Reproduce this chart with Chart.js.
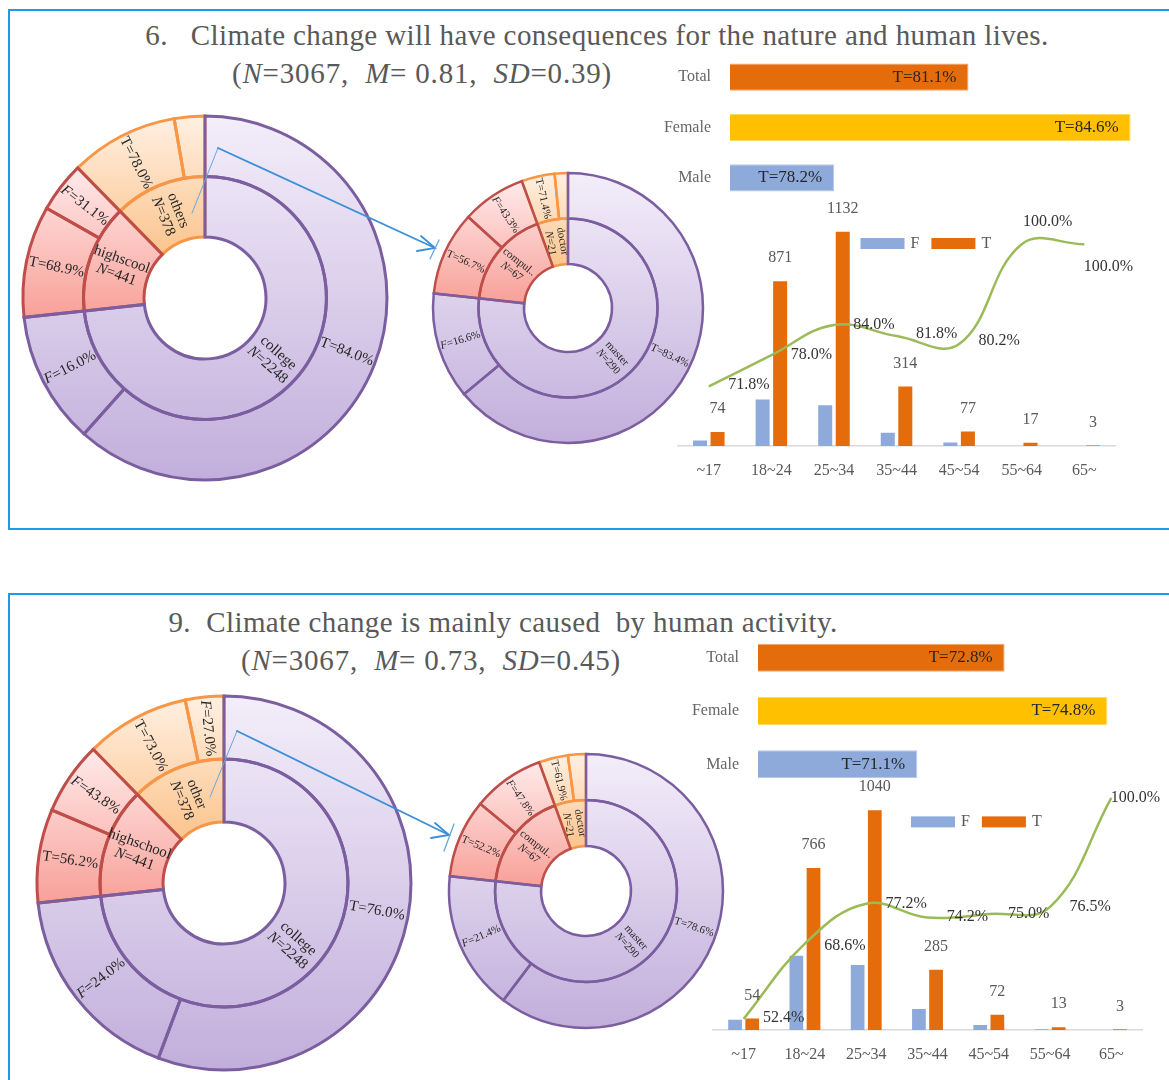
<!DOCTYPE html>
<html>
<head>
<meta charset="utf-8">
<script src="https://cdn.jsdelivr.net/npm/chart.js@4.4.1/dist/chart.umd.min.js"></script>
<style>
  html, body { margin: 0; padding: 0; background: #fff; }
  body { width: 1169px; height: 1080px; position: relative; overflow: hidden;
         font-family: 'Liberation Serif', 'Times New Roman', serif; }
  .panel { position: absolute; border: 2px solid #1e9be6; box-sizing: border-box; }
  .title { position: absolute; color: #595959; white-space: pre; line-height: 1;
           transform: translate(-50%, -50%); font-size: 29px; }
  .head { letter-spacing: 0.4px; }
  .sub { letter-spacing: 0.8px; }
  canvas { position: absolute; }
  svg { position: absolute; left: 0; top: 0; pointer-events: none; }
</style>
</head>
<body>
<div class="panel" style="left:8px; top:9px; width:1200px; height:521px;"></div>
<div class="panel" style="left:8px; top:593px; width:1200px; height:560px;"></div>

<div class="title head" style="left:597px; top:35px;">6.   Climate change will have consequences for the nature and human lives.</div>
<div class="title sub" style="left:422px; top:73px;">(<i>N</i>=3067,  <i>M</i>= 0.81,  <i>SD</i>=0.39)</div>
<div class="title head" style="left:503px; top:622px;">9.  Climate change is mainly caused  by human activity.</div>
<div class="title sub" style="left:431px; top:660px;">(<i>N</i>=3067,  <i>M</i>= 0.73,  <i>SD</i>=0.45)</div>

<canvas id="q6Edu" width="380" height="380" style="left:15px; top:108px;"></canvas>
<canvas id="q6Sub" width="290" height="290" style="left:423px; top:163px;"></canvas>
<canvas id="q6Gender" width="539" height="151" style="left:630px; top:52px;"></canvas>
<canvas id="q6Age" width="509" height="290" style="left:660px; top:200px;"></canvas>

<canvas id="q9Edu" width="390" height="390" style="left:29px; top:688px;"></canvas>
<canvas id="q9Sub" width="290" height="290" style="left:441px; top:746px;"></canvas>
<canvas id="q9Gender" width="511" height="160" style="left:658px; top:631px;"></canvas>
<canvas id="q9Age" width="469" height="310" style="left:700px; top:770px;"></canvas>

<svg width="1169" height="1080" viewBox="0 0 1169 1080">
  <g fill="none" stroke-linecap="round">
    <!-- drill-down connector, question 6 -->
    <line x1="192" y1="213" x2="218" y2="148" stroke="#6aa6dc" stroke-width="1"/>
    <line x1="218" y1="148" x2="435" y2="248" stroke="#3b8fd8" stroke-width="1.8"/>
    <polyline points="421,236 435,248 417,251" stroke="#3b8fd8" stroke-width="1.8"/>
    <line x1="439" y1="240" x2="430" y2="259" stroke="#6aa6dc" stroke-width="1.3"/>
    <!-- drill-down connector, question 9 -->
    <line x1="210" y1="797" x2="237" y2="731" stroke="#6aa6dc" stroke-width="1"/>
    <line x1="237" y1="731" x2="449" y2="835" stroke="#3b8fd8" stroke-width="1.8"/>
    <polyline points="435,823 449,835 431,838" stroke="#3b8fd8" stroke-width="1.8"/>
    <line x1="454" y1="824" x2="444" y2="851" stroke="#6aa6dc" stroke-width="1.3"/>
  </g>
</svg>

<script>
// ---------- Question 6: consequences for nature and human lives ----------
const q6EduNames = ['college', 'highscool', 'others'];
const q6EduCounts = [2248, 441, 378];
const q6EduTruePct = [84.0, 68.9, 78.0];
const q6SubNames = ['master', 'compul..', 'doctor'];
const q6SubCounts = [290, 67, 21];
const q6SubTruePct = [83.4, 56.7, 71.4];
const q6GenderTruePct = [81.1, 84.6, 78.2];
const q6AgeFalse = [29, 246, 215, 70, 19, 0, 0];
const q6AgeTrue = [74, 871, 1132, 314, 77, 17, 3];
const q6AgeTruePct = [71.8, 78.0, 84.0, 81.8, 80.2, 100.0, 100.0];

// ---------- Question 9: mainly caused by human activity ----------
const q9EduNames = ['college', 'highschool', 'other'];
const q9EduCounts = [2248, 441, 378];
const q9EduTruePct = [76.0, 56.2, 73.0];
const q9SubNames = ['master', 'compul..', 'doctor'];
const q9SubCounts = [290, 67, 21];
const q9SubTruePct = [78.6, 52.2, 61.9];
const q9GenderTruePct = [72.8, 74.8, 71.1];
const q9AgeFalse = [49, 351, 307, 99, 24, 4, 0];
const q9AgeTrue = [54, 766, 1040, 285, 72, 13, 3];
const q9AgeTruePct = [52.4, 68.6, 77.2, 74.2, 75.0, 76.5, 100.0];

// ---------- shared axis labels ----------
const genderLabels = ['Total', 'Female', 'Male'];
const ageLabels = ['~17', '18~24', '25~34', '35~44', '45~54', '55~64', '65~'];

const SERIF = "'Liberation Serif', 'Times New Roman', serif";
Chart.defaults.font.family = SERIF;
Chart.defaults.color = '#595959';
Chart.defaults.animation = false;
Chart.defaults.responsive = false;
Chart.defaults.devicePixelRatio = 1;
Chart.defaults.events = [];
Chart.defaults.plugins.legend.display = false;
Chart.defaults.plugins.tooltip.enabled = false;

// fill gradient (top -> bottom) and outline for each education group
const groupPalette = [
  { top: '#f3eefa', bottom: '#c2aedb', line: '#7b5e9f' },
  { top: '#ffeaea', bottom: '#f8a098', line: '#bf4e4a' },
  { top: '#fff0e2', bottom: '#fbc48d', line: '#f79646' }
];

function arcProps(arc) {
  return arc.getProps(['x', 'y', 'startAngle', 'endAngle', 'innerRadius', 'outerRadius'], true);
}

function arcYRange(arc) {
  const p = arcProps(arc);
  let lo = Infinity, hi = -Infinity;
  for (let k = 0; k <= 60; k++) {
    const a = p.startAngle + (p.endAngle - p.startAngle) * k / 60;
    for (const r of [p.innerRadius, p.outerRadius]) {
      const y = p.y + Math.sin(a) * r;
      lo = Math.min(lo, y); hi = Math.max(hi, y);
    }
  }
  return [lo, hi];
}

// draw a line made of [text, italic] pieces, centred on (0, y)
function drawPieces(ctx, pieces, y, size) {
  const fonts = pieces.map(([, it]) => (it ? 'italic ' : '') + size + 'px ' + SERIF);
  let total = 0;
  const widths = pieces.map(([t], i) => { ctx.font = fonts[i]; const w = ctx.measureText(t).width; total += w; return w; });
  let x = -total / 2;
  pieces.forEach(([t], i) => { ctx.font = fonts[i]; ctx.fillText(t, x, y); x += widths[i]; });
}

// two-ring sunburst: gradient fills, group outlines and radial labels
const sunburstPlugin = {
  id: 'sunburst',
  beforeDatasetsDraw(chart) {
    const ctx = chart.ctx;
    const ranges = {};
    chart.data.datasets.forEach((ds, di) => {
      chart.getDatasetMeta(di).data.forEach((arc, i) => {
        const [lo, hi] = arcYRange(arc);
        const r = ranges[ds.group[i]] || (ranges[ds.group[i]] = [Infinity, -Infinity]);
        r[0] = Math.min(r[0], lo); r[1] = Math.max(r[1], hi);
      });
    });
    chart.data.datasets.forEach((ds, di) => {
      chart.getDatasetMeta(di).data.forEach((arc, i) => {
        const g = ds.group[i];
        const grad = ctx.createLinearGradient(0, ranges[g][0], 0, ranges[g][1]);
        grad.addColorStop(0, groupPalette[g].top);
        grad.addColorStop(1, groupPalette[g].bottom);
        arc.options.backgroundColor = grad;
      });
    });
  },
  afterDatasetsDraw(chart, args, opts) {
    const ctx = chart.ctx;
    ctx.save();
    chart.data.datasets.forEach((ds, di) => {
      const arcs = chart.getDatasetMeta(di).data;
      for (let i = arcs.length - 1; i >= 0; i--) {
        const p = arcProps(arcs[i]);
        ctx.beginPath();
        ctx.arc(p.x, p.y, p.outerRadius, p.startAngle, p.endAngle);
        ctx.arc(p.x, p.y, p.innerRadius, p.endAngle, p.startAngle, true);
        ctx.closePath();
        ctx.lineWidth = opts.lineWidth;
        ctx.lineJoin = 'miter';
        ctx.strokeStyle = groupPalette[ds.group[i]].line;
        ctx.stroke();
      }
    });
    ctx.fillStyle = '#262626';
    ctx.textAlign = 'left';
    ctx.textBaseline = 'middle';
    const minLen = opts.fontSize * 1.9;
    chart.data.datasets.forEach((ds, di) => {
      chart.getDatasetMeta(di).data.forEach((arc, i) => {
        const p = arcProps(arc);
        const mid = (p.startAngle + p.endAngle) / 2;
        const rMid = (p.innerRadius + p.outerRadius) / 2;
        if ((p.endAngle - p.startAngle) * rMid < minLen) return;
        const lines = ds.text[i];
        let rot = mid;
        if (Math.cos(mid) < 0) rot += Math.PI;
        ctx.save();
        ctx.translate(p.x + Math.cos(mid) * rMid, p.y + Math.sin(mid) * rMid);
        ctx.rotate(rot);
        lines.forEach((pieces, k) => {
          drawPieces(ctx, pieces, (k - (lines.length - 1) / 2) * opts.lineHeight, opts.fontSize);
        });
        ctx.restore();
      });
    });
    ctx.restore();
  }
};

function sunburst(id, names, counts, truePct, ring) {
  const outer = [], outerGroup = [], outerText = [];
  counts.forEach((n, i) => {
    const t = truePct[i];
    outer.push(n * t / 100, n * (100 - t) / 100);
    outerGroup.push(i, i);
    outerText.push([[['T=' + t.toFixed(1) + '%', false]]],
                   [[['F', true], ['=' + (100 - t).toFixed(1) + '%', false]]]);
  });
  const innerText = names.map((nm, i) => [[[nm, false]], [['N', true], ['=' + counts[i], false]]]);
  return new Chart(document.getElementById(id), {
    type: 'doughnut',
    data: {
      labels: names,
      datasets: [
        { data: outer, group: outerGroup, text: outerText, borderWidth: 0, backgroundColor: () => '#ddd' },
        { data: counts.slice(), group: names.map((_, i) => i), text: innerText, borderWidth: 0, backgroundColor: () => '#ddd' }
      ]
    },
    options: {
      radius: ring.radius,
      cutout: ring.cutout,
      layout: { padding: 0 },
      plugins: { sunburst: { lineWidth: ring.lineWidth, fontSize: ring.fontSize, lineHeight: ring.lineHeight } }
    },
    plugins: [sunburstPlugin]
  });
}

// value text inside the horizontal bars
const barTextPlugin = {
  id: 'barText',
  afterDatasetsDraw(chart, args, opts) {
    const ctx = chart.ctx;
    const ds = chart.data.datasets[0];
    ctx.save();
    ctx.font = opts.size + 'px ' + SERIF;
    ctx.fillStyle = '#262626';
    ctx.textAlign = 'right';
    ctx.textBaseline = 'middle';
    chart.getDatasetMeta(0).data.forEach((bar, i) => {
      ctx.fillText('T=' + ds.data[i].toFixed(1) + '%', bar.x - opts.inset, bar.y);
    });
    ctx.restore();
  }
};

function genderChart(id, values, axis) {
  return new Chart(document.getElementById(id), {
    type: 'bar',
    data: {
      labels: genderLabels,
      datasets: [{
        data: values,
        backgroundColor: ['#e46c0a', '#ffc000', '#8eaadb'],
        borderColor: ['#f4a46a', '#ffd966', '#b4c7e7'],
        borderWidth: 1,
        borderSkipped: false,
        barPercentage: axis.barPct,
        categoryPercentage: 0.6
      }]
    },
    options: {
      indexAxis: 'y',
      layout: { padding: 0 },
      scales: {
        x: { display: false, min: axis.min, max: axis.max },
        y: {
          grid: { display: false, drawTicks: false },
          border: { display: false },
          ticks: { font: { size: 16 }, color: '#666666', padding: 19 },
          afterFit(scale) {
            // fixed label column; the category rows use the full canvas height
            scale.width = 100;
            scale.paddingTop = 0;
            scale.paddingBottom = 0;
          }
        }
      },
      plugins: { barText: { size: 17, inset: 12 } }
    },
    plugins: [barTextPlugin]
  });
}

// counts over the T bars and percentages along the line
const ageTextPlugin = {
  id: 'ageText',
  afterDatasetsDraw(chart, args, opts) {
    const ctx = chart.ctx;
    ctx.save();
    ctx.textAlign = 'center';
    ctx.textBaseline = 'middle';
    chart.data.datasets.forEach((ds, di) => {
      const meta = chart.getDatasetMeta(di);
      if (ds.role === 'count') {
        ctx.font = '16px ' + SERIF;
        ctx.fillStyle = '#595959';
        meta.data.forEach((bar, i) => ctx.fillText(String(ds.data[i]), bar.x, bar.y - 23));
      } else if (ds.role === 'pct') {
        ctx.font = '16px ' + SERIF;
        ctx.fillStyle = '#333333';
        meta.data.forEach((pt, i) => {
          const [dx, dy] = opts.shift[i];
          ctx.fillText(ds.data[i].toFixed(1) + '%', pt.x + dx, pt.y + dy);
        });
      }
    });
    ctx.restore();
  }
};

// legend for the bar series, placed inside the plot
const ageLegendPlugin = {
  id: 'ageLegend',
  afterDraw(chart, args, opts) {
    const ctx = chart.ctx;
    const area = chart.chartArea;
    let x = area.left + opts.x;
    const y = area.top + opts.y;
    ctx.save();
    ctx.font = '16px ' + SERIF;
    ctx.textBaseline = 'middle';
    ctx.textAlign = 'left';
    chart.data.datasets.filter(ds => ds.type === 'bar').forEach(ds => {
      ctx.fillStyle = ds.backgroundColor;
      ctx.fillRect(x, y, 44, 11);
      ctx.fillStyle = '#595959';
      ctx.fillText(ds.label, x + 50, y + 5.5);
      x += 50 + ctx.measureText(ds.label).width + 12;
    });
    ctx.restore();
  }
};

function ageChart(id, falseCounts, trueCounts, truePct, look) {
  return new Chart(document.getElementById(id), {
    type: 'bar',
    data: {
      labels: ageLabels,
      datasets: [
        { type: 'line', label: 'T%', role: 'pct', data: truePct, yAxisID: 'y1',
          borderColor: '#9bbb59', borderWidth: 2.5, pointRadius: 0, tension: 0.4, fill: false, order: 0 },
        { type: 'bar', label: 'F', data: falseCounts, yAxisID: 'y', backgroundColor: '#8eaadb',
          barPercentage: 0.8, categoryPercentage: 0.56, order: 1 },
        { type: 'bar', label: 'T', role: 'count', data: trueCounts, yAxisID: 'y', backgroundColor: '#e46c0a',
          barPercentage: 0.8, categoryPercentage: 0.56, order: 1 }
      ]
    },
    options: {
      layout: { padding: look.padding },
      scales: {
        x: {
          grid: { display: false, drawTicks: false },
          border: { display: true, color: '#d9d9d9', width: 1.5 },
          ticks: { font: { size: 16 }, color: '#595959', padding: 15 },
          afterFit(scale) { scale.height = 40; }
        },
        y: { display: false, min: 0, max: 1200 },
        y1: { display: false, position: 'right', min: look.pctMin, max: look.pctMax }
      },
      plugins: {
        ageText: { shift: look.shift },
        ageLegend: { x: look.legendX, y: look.legendY }
      }
    },
    plugins: [ageTextPlugin, ageLegendPlugin]
  });
}

// question 6
sunburst('q6Edu', q6EduNames, q6EduCounts, q6EduTruePct,
  { radius: 182, cutout: '33.5%', lineWidth: 3, fontSize: 15, lineHeight: 16 });
sunburst('q6Sub', q6SubNames, q6SubCounts, q6SubTruePct,
  { radius: 135, cutout: '32.6%', lineWidth: 2.5, fontSize: 11, lineHeight: 12 });
genderChart('q6Gender', q6GenderTruePct, { min: 75.95, max: 85.43, barPct: 0.9 });
ageChart('q6Age', q6AgeFalse, q6AgeTrue, q6AgeTruePct, {
  padding: { left: 17.5, right: 53.4, top: 19, bottom: 4 },
  pctMin: 60, pctMax: 105,
  legendX: 183, legendY: 19,
  shift: [[40, -2], [40, 0], [40, 0], [40, -2], [40, -3], [26, -22], [24, 23]]
});

// question 9
sunburst('q9Edu', q9EduNames, q9EduCounts, q9EduTruePct,
  { radius: 187, cutout: '32.6%', lineWidth: 3, fontSize: 15, lineHeight: 16 });
sunburst('q9Sub', q9SubNames, q9SubCounts, q9SubTruePct,
  { radius: 137, cutout: '32.8%', lineWidth: 2.5, fontSize: 11, lineHeight: 12 });
genderChart('q9Gender', q9GenderTruePct, { min: 68, max: 76, barPct: 0.875 });
ageChart('q9Age', q9AgeFalse, q9AgeTrue, q9AgeTruePct, {
  padding: { left: 13, right: 27, top: 6.4, bottom: 10 },
  pctMin: 50, pctMax: 104.6,
  legendX: 198, legendY: 40,
  shift: [[40, -1], [40, 2], [40, 0], [40, -1], [40, 0], [40, 0], [24, 0]]
});
</script>
</body>
</html>
